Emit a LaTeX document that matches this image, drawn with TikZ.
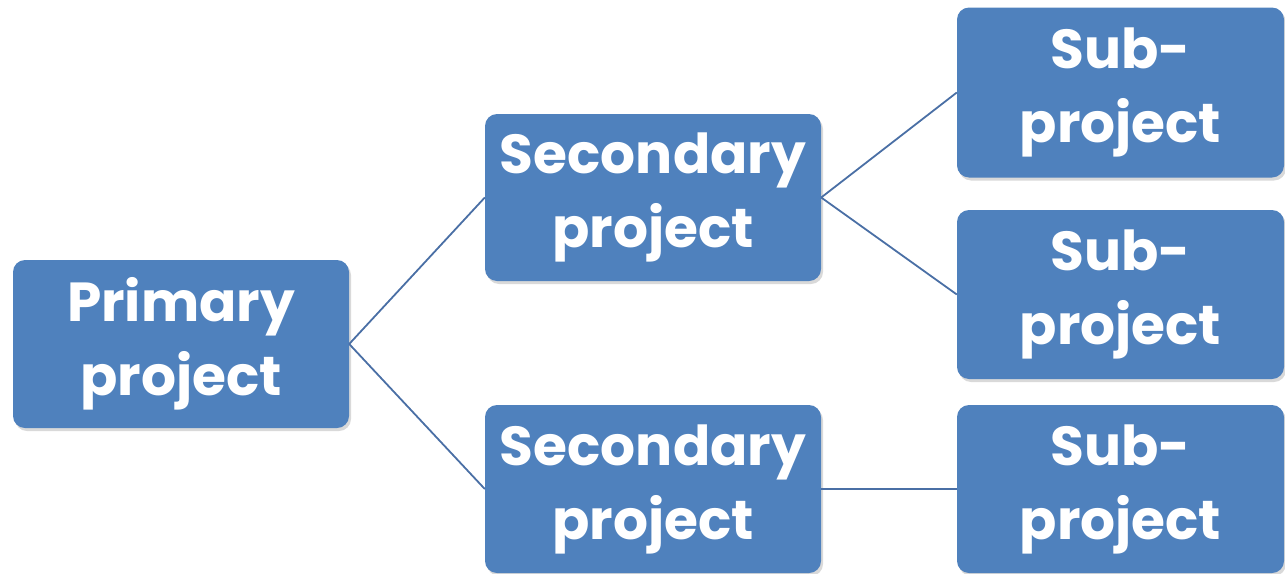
\documentclass[tikz,border=0pt]{standalone}
\usepackage{fontspec}
\setmainfont{Poppins}
\usetikzlibrary{shadows}
\definecolor{boxblue}{HTML}{4F81BD}
\definecolor{linkblue}{HTML}{4A6FA5}
\tikzset{
  pbox/.style={fill=boxblue, draw=none, rounded corners=12pt, text=white,
    font=\bfseries\fontsize{55}{74}\selectfont, align=center, inner sep=0pt,
    drop shadow={shadow xshift=2pt, shadow yshift=-3pt, opacity=0.3}},
  link/.style={draw=linkblue, line width=1.8pt}
}
\begin{document}
\begin{tikzpicture}[x=1pt,y=-1pt]
\useasboundingbox (0,0) rectangle (1285,573);
\node[pbox, minimum width=336pt, minimum height=168pt] (P) at (181,344) {Primary\\project};
\node[pbox, minimum width=336pt, minimum height=167pt] (S1) at (653,197.5) {Secondary\\project};
\node[pbox, minimum width=336pt, minimum height=168pt] (S2) at (653,489) {Secondary\\project};
\node[pbox, minimum width=327pt, minimum height=170pt] (U1) at (1120.5,92.5) {Sub-\\project};
\node[pbox, minimum width=327pt, minimum height=169pt] (U2) at (1120.5,294.5) {Sub-\\project};
\node[pbox, minimum width=327pt, minimum height=168pt] (U3) at (1120.5,489) {Sub-\\project};
\draw[link] (P.east) -- (S1.west);
\draw[link] (P.east) -- (S2.west);
\draw[link] (S1.east) -- (U1.west);
\draw[link] (S1.east) -- (U2.west);
\draw[link] (S2.east) -- (U3.west);
\end{tikzpicture}
\end{document}
